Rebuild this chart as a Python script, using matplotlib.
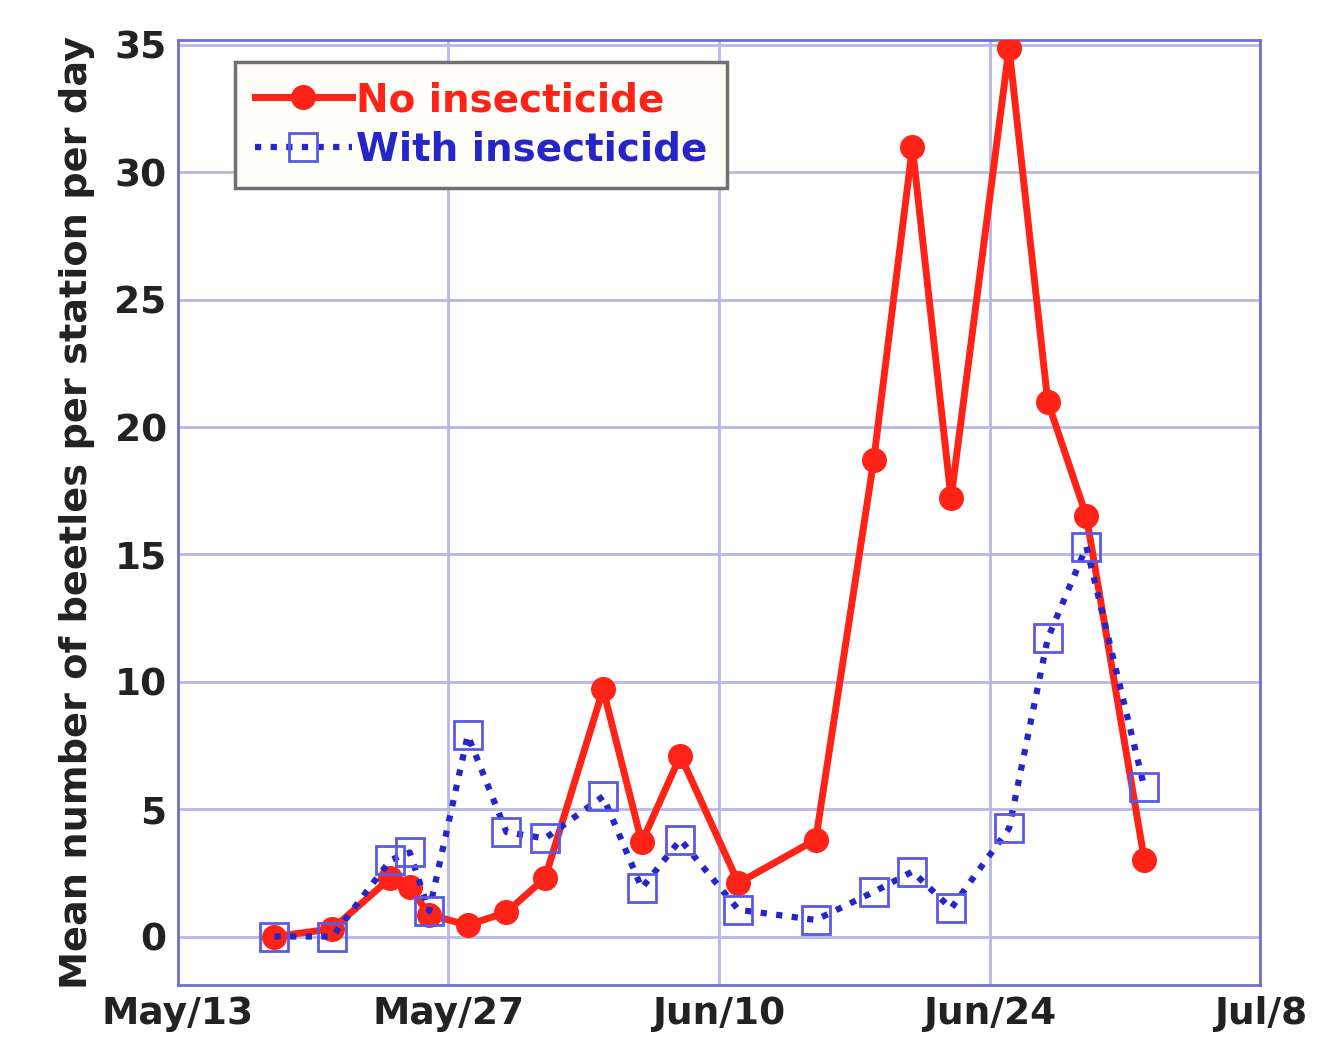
import pandas as pd
import matplotlib.pyplot as plt

plt.rcParams["font.family"] = ["DejaVu Sans"]

# sampling dates
dates = pd.to_datetime([
    "2003-05-18", "2003-05-21", "2003-05-24", "2003-05-25", "2003-05-26",
    "2003-05-28", "2003-05-30", "2003-06-01", "2003-06-04", "2003-06-06",
    "2003-06-08", "2003-06-11", "2003-06-15", "2003-06-18", "2003-06-20",
    "2003-06-22", "2003-06-25", "2003-06-27", "2003-06-29", "2003-07-02",
])
no_insecticide = [0.0, 0.3, 2.3, 1.95, 0.85, 0.45, 0.95, 2.3, 9.7, 3.7,
                  7.1, 2.1, 3.8, 18.7, 31.0, 17.2, 34.9, 21.0, 16.5, 3.0]
with_insecticide = [0.0, 0.0, 3.0, 3.3, 1.0, 7.9, 4.1, 3.85, 5.5, 1.9,
                    3.8, 1.05, 0.65, 1.75, 2.55, 1.1, 4.25, 11.7, 15.3, 5.85]

tick_dates = pd.to_datetime(["2003-05-13", "2003-05-27", "2003-06-10",
                             "2003-06-24", "2003-07-08"])
tick_labels = ["May/13", "May/27", "Jun/10", "Jun/24", "Jul/8"]
y_ticks = [0, 5, 10, 15, 20, 25, 30, 35]

fig = plt.figure(figsize=(13.17, 10.5), dpi=100)
ax = fig.add_axes([0.135, 0.062, 0.822, 0.9])

ax.plot(dates, no_insecticide, color="#ff2216", lw=5, marker="o",
        markersize=17, label="No insecticide", zorder=3)
ax.plot(dates, with_insecticide, color="#2626c8", lw=4.5, ls=(0, (1, 1.5)),
        marker="s", markersize=20, markerfacecolor="none",
        markeredgecolor="#5a5ae6", markeredgewidth=2,
        label="With insecticide", zorder=4)

ax.set_xlim(tick_dates[0], tick_dates[-1])
ax.set_ylim(-1.9, 35.2)
ax.set_xticks(tick_dates)
ax.set_xticklabels(tick_labels)
ax.set_yticks(y_ticks)
ax.tick_params(labelsize=27, length=0, pad=8)
for lab in ax.get_xticklabels() + ax.get_yticklabels():
    lab.set_fontweight("bold")
    lab.set_color("#222222")

ax.grid(True, color="#b8b8e6", lw=2)
ax.set_axisbelow(True)
for sp in ax.spines.values():
    sp.set_color("#7070d0")
    sp.set_linewidth(2)

ax.set_ylabel("Mean number of beetles per station per day", fontsize=27.5,
              fontweight="bold", color="#222222", labelpad=14)

leg = ax.legend(loc="upper left", bbox_to_anchor=(0.053, 0.977),
                borderaxespad=0,
                prop={"weight": "bold", "size": 28}, handlelength=2.5,
                handletextpad=0.1, borderpad=0.5, labelspacing=0.3,
                fancybox=False, framealpha=1, edgecolor="#707070",
                labelcolor="linecolor")
leg.get_frame().set_linewidth(2.5)
leg.get_frame().set_facecolor("#fffef8")

fig.savefig("out.png", dpi=100)
